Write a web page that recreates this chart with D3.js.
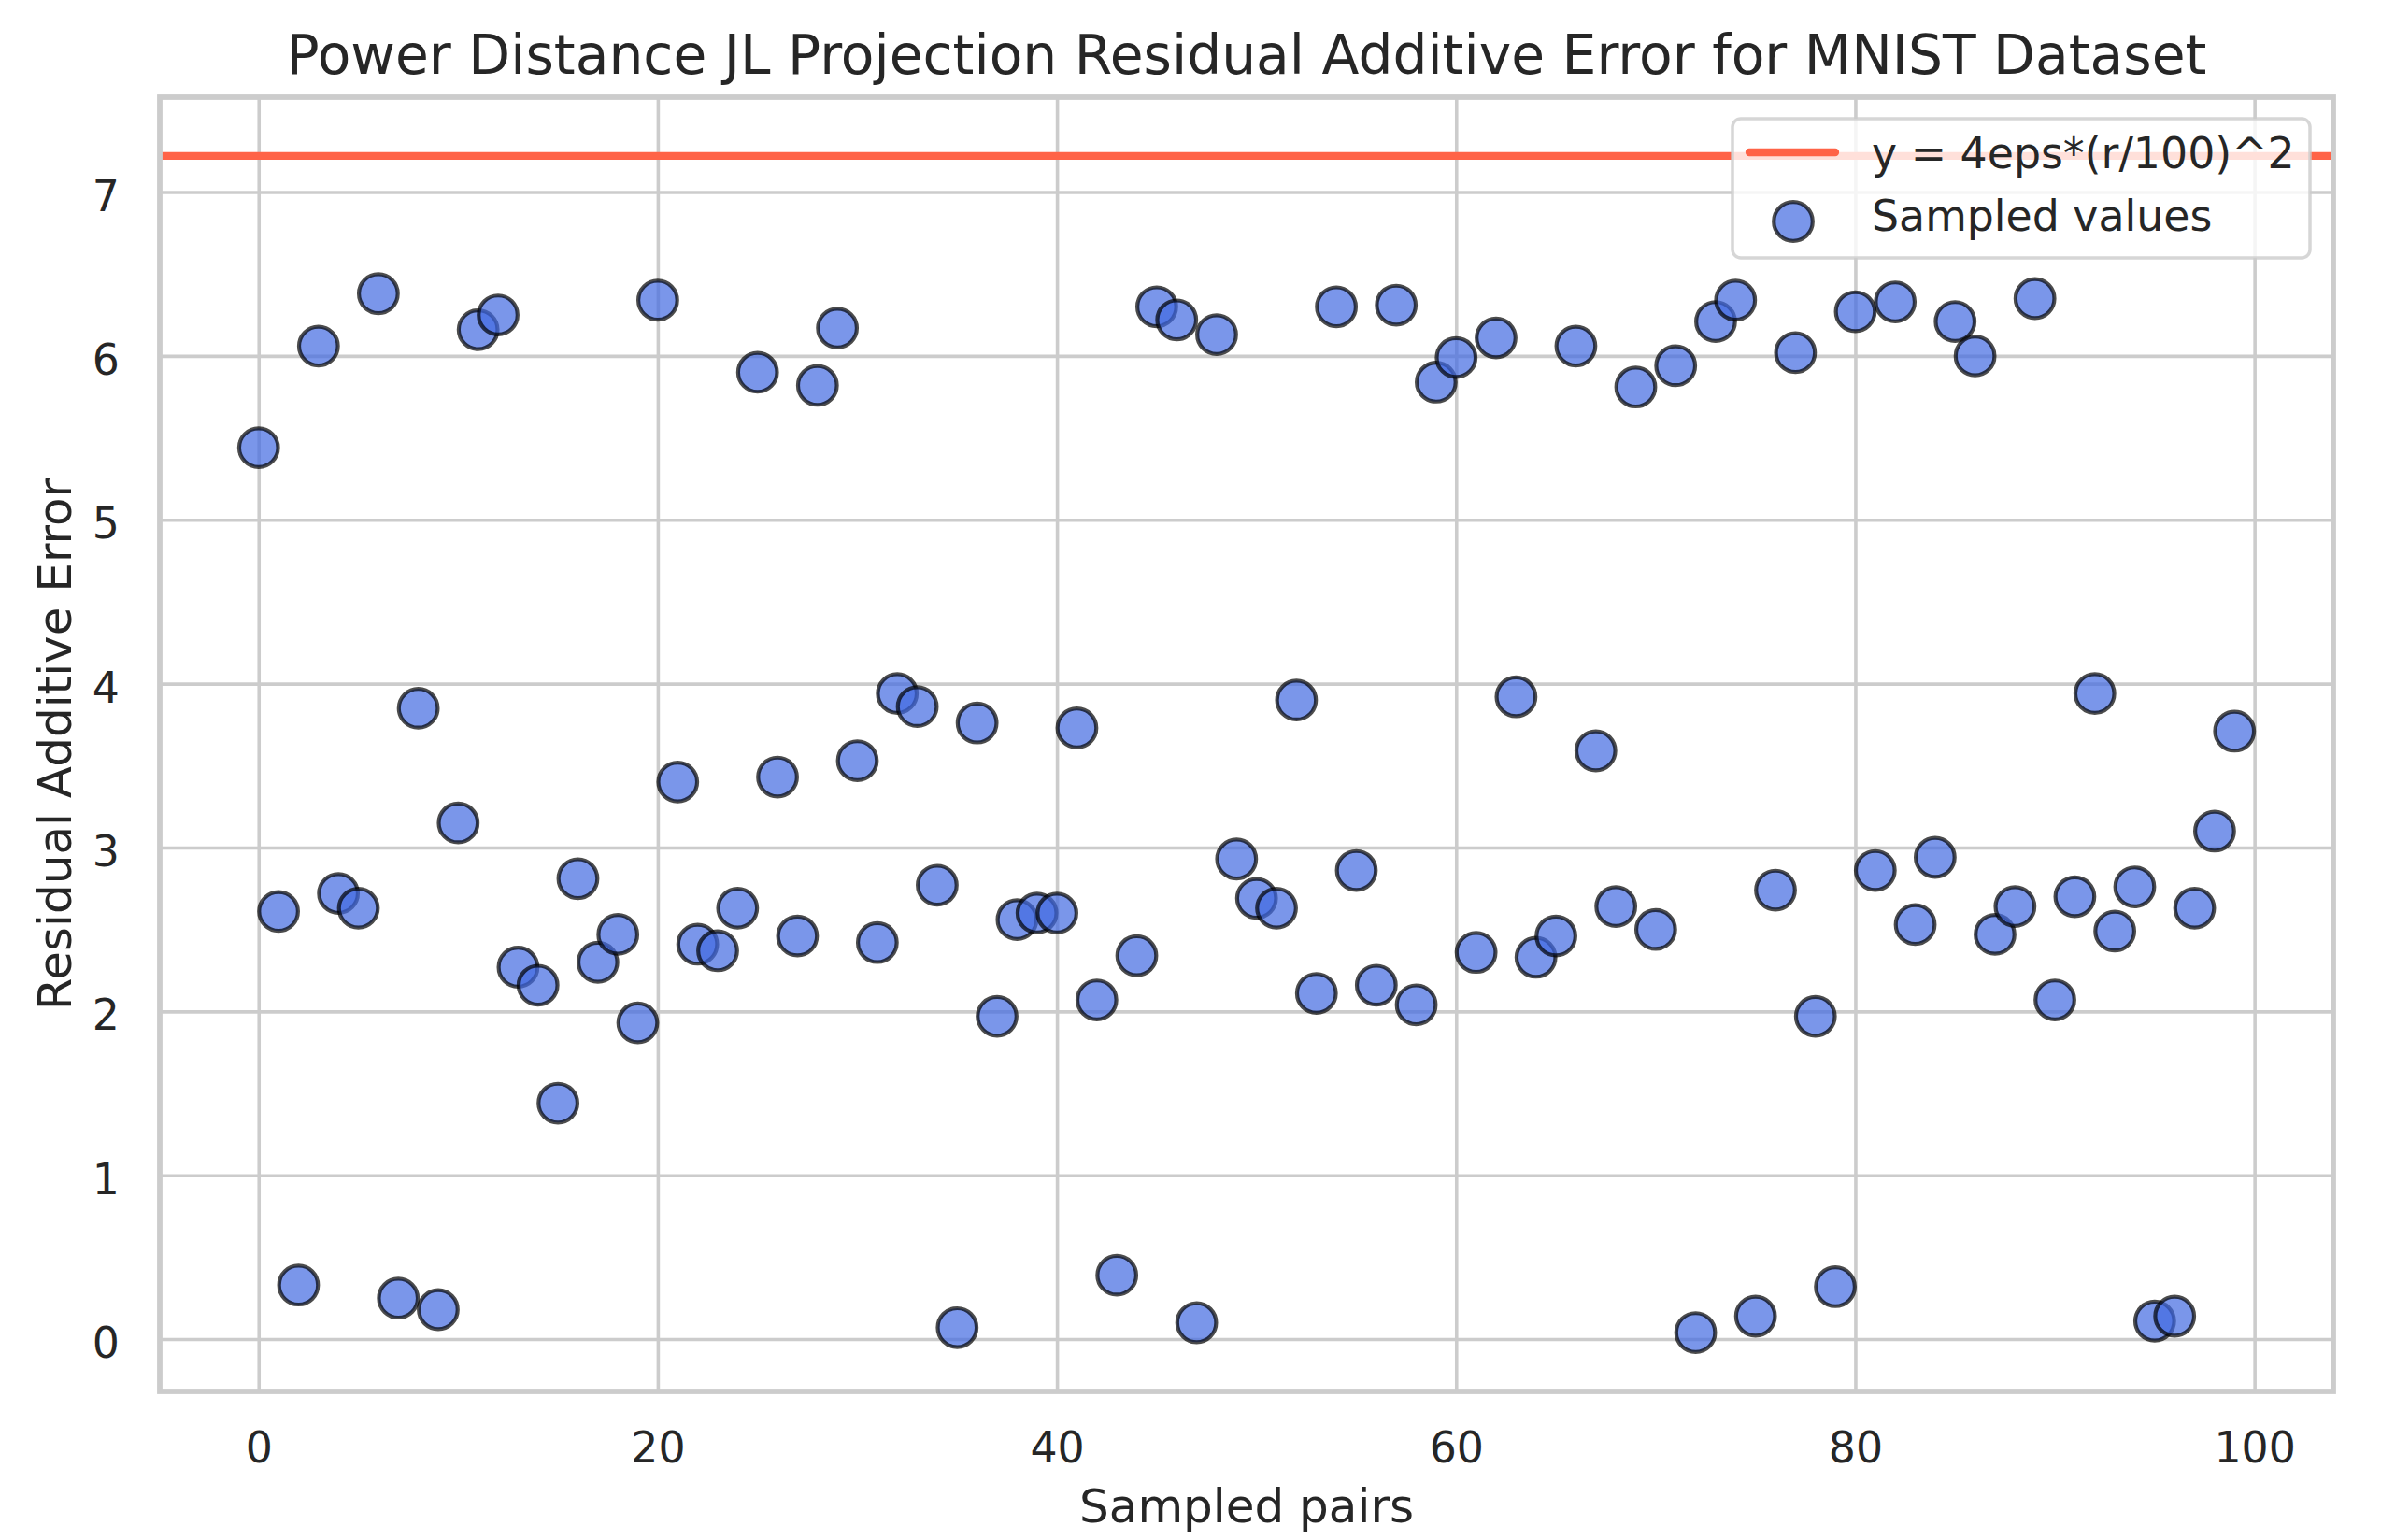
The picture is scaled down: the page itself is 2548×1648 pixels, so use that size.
<!DOCTYPE html>
<html>
<head>
<meta charset="utf-8">
<script src="https://cdn.jsdelivr.net/npm/d3@7"></script>
<style>
  html, body { margin: 0; padding: 0; background: #ffffff; }
  svg { display: block; }
  text { font-family: "DejaVu Sans", sans-serif; fill: #262626; }
</style>
</head>
<body>
<svg id="chart" width="2548" height="1648"></svg>
<script>
// ---- data ----
const titleText = "Power Distance JL Projection Residual Additive Error for MNIST Dataset";
const xLabelText = "Sampled pairs";
const yLabelText = "Residual Additive Error";
const legendLabels = ["y = 4eps*(r/100)^2", "Sampled values"];
const xTicks = [0, 20, 40, 60, 80, 100];
const yTicks = [0, 1, 2, 3, 4, 5, 6, 7];
const boundValue = 7.22;
const residuals = [
  5.44, 2.61, 0.33, 6.06, 2.72, 2.63, 6.38, 0.25, 3.85, 0.18,
  3.15, 6.16, 6.25, 2.27, 2.16, 1.44, 2.81, 2.30, 2.47, 1.93,
  6.34, 3.40, 2.41, 2.37, 2.63, 5.90, 3.43, 2.46, 5.82, 6.17,
  3.53, 2.42, 3.94, 3.86, 2.77, 0.07, 3.76, 1.97, 2.56, 2.60,
  2.60, 3.73, 2.07, 0.39, 2.34, 6.30, 6.22, 0.10, 6.13, 2.93,
  2.69, 2.63, 3.90, 2.11, 6.30, 2.86, 2.16, 6.31, 2.04, 5.84,
  5.99, 2.36, 6.11, 3.92, 2.33, 2.46, 6.06, 3.59, 2.64, 5.81,
  2.50, 5.94, 0.04, 6.21, 6.34, 0.14, 2.74, 6.02, 1.97, 0.32,
  6.27, 2.86, 6.33, 2.53, 2.94, 6.21, 6.00, 2.47, 2.64, 6.35,
  2.07, 2.70, 3.94, 2.49, 2.76, 0.11, 0.14, 2.63, 3.10, 3.71
];
const points = residuals.map((v, i) => ({ x: i, y: v }));

// ---- layout ----
const plot = { left: 171, right: 2497, top: 104, bottom: 1489 };
const svg = d3.select("#chart");

const xMin = 0, xMax = residuals.length - 1;
const xPad = (xMax - xMin) * 0.05;
const x = d3.scaleLinear().domain([xMin - xPad, xMax + xPad]).range([plot.left, plot.right]);

const yLo = d3.min(residuals), yHi = Math.max(d3.max(residuals), boundValue);
const yPad = (yHi - yLo) * 0.05;
const y = d3.scaleLinear().domain([yLo - yPad, yHi + yPad]).range([plot.bottom, plot.top]);

const gridColor = "#cccccc";

// grid
const xAxisGrid = d3.axisBottom(x).tickValues(xTicks).tickSize(-(plot.bottom - plot.top)).tickFormat("");
const gx = svg.append("g").attr("transform", `translate(0,${plot.bottom})`).call(xAxisGrid);
gx.select(".domain").remove();
gx.selectAll("line").attr("stroke", gridColor).attr("stroke-width", 3.6);

const yAxisGrid = d3.axisLeft(y).tickValues(yTicks).tickSize(-(plot.right - plot.left)).tickFormat("");
const gy = svg.append("g").attr("transform", `translate(${plot.left},0)`).call(yAxisGrid);
gy.select(".domain").remove();
gy.selectAll("line").attr("stroke", gridColor).attr("stroke-width", 3.6);

// tick labels via axes
const xAxisLabels = d3.axisBottom(x).tickValues(xTicks).tickSize(0).tickPadding(0).tickFormat(d3.format("d"));
const gxl = svg.append("g").attr("transform", `translate(0,${plot.bottom})`).call(xAxisLabels);
gxl.select(".domain").remove();
gxl.selectAll("text")
  .attr("y", 76).attr("dy", null)
  .style("font-size", "45.8px").style("font-family", "DejaVu Sans").attr("fill", "#262626");

const yAxisLabels = d3.axisLeft(y).tickValues(yTicks).tickSize(0).tickPadding(0).tickFormat(d3.format("d"));
const gyl = svg.append("g").attr("transform", `translate(${plot.left},0)`).call(yAxisLabels);
gyl.select(".domain").remove();
gyl.selectAll("text")
  .attr("x", -43).attr("dy", "19.5px")
  .style("font-size", "45.8px").style("font-family", "DejaVu Sans").attr("fill", "#262626");

// clip
svg.append("clipPath").attr("id", "clip").append("rect")
  .attr("x", plot.left).attr("y", plot.top)
  .attr("width", plot.right - plot.left).attr("height", plot.bottom - plot.top);

// scatter
svg.append("g").attr("clip-path", "url(#clip)")
  .selectAll("circle").data(points).join("circle")
  .attr("cx", d => x(d.x)).attr("cy", d => y(d.y)).attr("r", 20.8)
  .attr("fill", "#4169E1").attr("fill-opacity", 0.7)
  .attr("stroke", "#000000").attr("stroke-opacity", 0.7).attr("stroke-width", 4.2);

// horizontal bound line
svg.append("line")
  .attr("x1", plot.left).attr("x2", plot.right)
  .attr("y1", y(boundValue)).attr("y2", y(boundValue))
  .attr("stroke", "#FF6347").attr("stroke-width", 8.3);

// spines
svg.append("rect")
  .attr("x", plot.left).attr("y", plot.top)
  .attr("width", plot.right - plot.left).attr("height", plot.bottom - plot.top)
  .attr("fill", "none").attr("stroke", gridColor).attr("stroke-width", 5.8);

// title & labels
svg.append("text").attr("x", (plot.left + plot.right) / 2).attr("y", 79)
  .attr("text-anchor", "middle").style("font-size", "58.3px").text(titleText);
svg.append("text").attr("x", (plot.left + plot.right) / 2).attr("y", 1629)
  .attr("text-anchor", "middle").style("font-size", "50px").text(xLabelText);
svg.append("text")
  .attr("transform", `translate(76,${(plot.top + plot.bottom) / 2}) rotate(-90)`)
  .attr("text-anchor", "middle").style("font-size", "50px").text(yLabelText);

// legend
const lg = svg.append("g");
lg.append("rect").attr("x", 1854).attr("y", 127).attr("width", 618).attr("height", 149)
  .attr("rx", 9).attr("ry", 9)
  .attr("fill", "#ffffff").attr("fill-opacity", 0.8)
  .attr("stroke", "#cccccc").attr("stroke-opacity", 0.8).attr("stroke-width", 3.5);
lg.append("line").attr("x1", 1872).attr("x2", 1964).attr("y1", 163).attr("y2", 163)
  .attr("stroke", "#FF6347").attr("stroke-width", 8.3).attr("stroke-linecap", "round");
lg.append("circle").attr("cx", 1919).attr("cy", 237).attr("r", 20.8)
  .attr("fill", "#4169E1").attr("fill-opacity", 0.7)
  .attr("stroke", "#000000").attr("stroke-opacity", 0.7).attr("stroke-width", 4.2);
lg.selectAll("text.leg").data(legendLabels).join("text").attr("class", "leg")
  .attr("x", 2003).attr("y", (d, i) => 180 + i * 67)
  .style("font-size", "45.8px").text(d => d);
</script>
</body>
</html>
